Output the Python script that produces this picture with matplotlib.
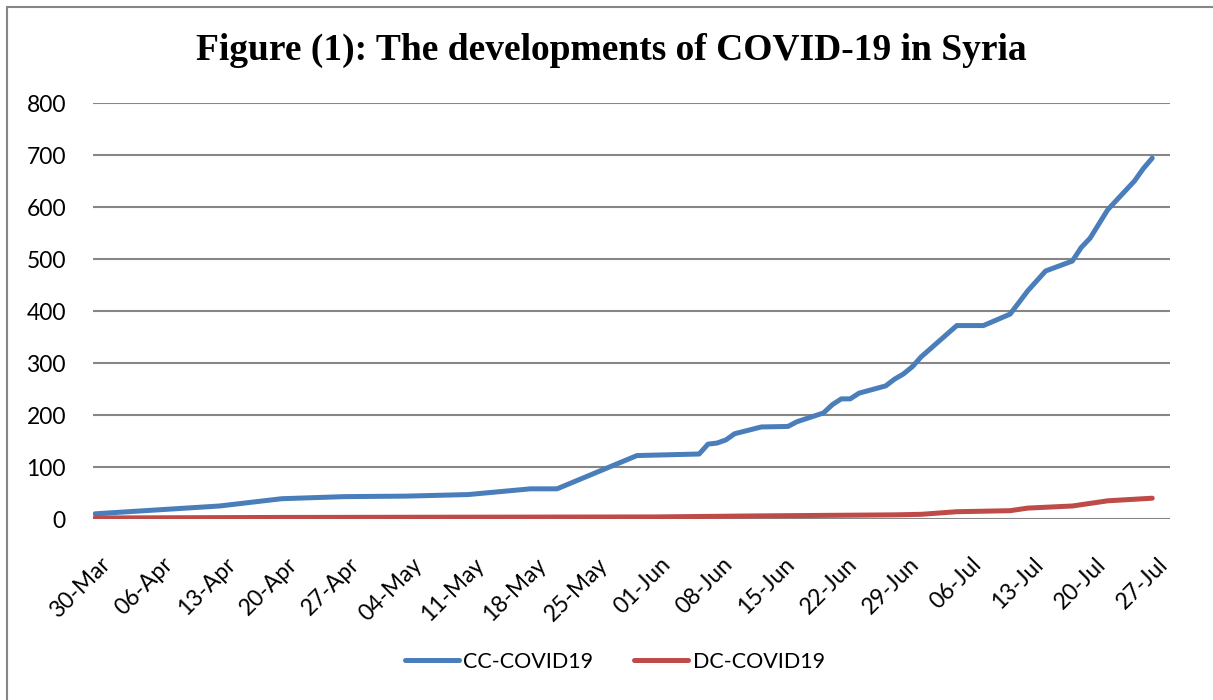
import datetime as dt
import matplotlib
matplotlib.use("Agg")
import matplotlib.pyplot as plt
import matplotlib.dates as mdates
import matplotlib.transforms as mtransforms
from matplotlib.patches import Rectangle

# Confirmed cases (CC) - vertices
cc_dates = ["2020-03-30", "2020-04-13", "2020-04-20", "2020-04-27", "2020-05-04",
            "2020-05-11", "2020-05-18", "2020-05-21", "2020-05-30", "2020-06-06",
            "2020-06-07", "2020-06-08", "2020-06-09", "2020-06-10", "2020-06-13",
            "2020-06-16", "2020-06-17", "2020-06-20", "2020-06-21", "2020-06-22",
            "2020-06-23", "2020-06-24", "2020-06-27", "2020-06-28", "2020-06-29",
            "2020-06-30", "2020-07-01", "2020-07-05", "2020-07-08", "2020-07-11",
            "2020-07-13", "2020-07-15", "2020-07-18", "2020-07-19", "2020-07-20",
            "2020-07-22", "2020-07-25", "2020-07-26", "2020-07-27"]
cc_values = [10, 25, 39, 43, 44,
             47, 58, 58, 122, 125,
             144, 146, 152, 164, 177,
             178, 187, 204, 220, 231,
             231, 242, 256, 269, 279,
             293, 312, 372, 372, 394,
             439, 477, 496, 522, 540,
             595, 650, 674, 694]

# Deaths (DC)
dc_dates = ["2020-03-30", "2020-04-20", "2020-06-01", "2020-06-13", "2020-06-28",
            "2020-07-01", "2020-07-05", "2020-07-11", "2020-07-13", "2020-07-18",
            "2020-07-20", "2020-07-22", "2020-07-27"]
dc_values = [2, 3, 4, 6, 8,
             9, 14, 16, 21, 25,
             30, 35, 40]

tick_start = "2020-03-30"
tick_count = 18

cc_x = [dt.datetime.strptime(d, "%Y-%m-%d") for d in cc_dates]
dc_x = [dt.datetime.strptime(d, "%Y-%m-%d") for d in dc_dates]
t0 = dt.datetime.strptime(tick_start, "%Y-%m-%d")
ticks = [t0 + dt.timedelta(days=7 * i) for i in range(tick_count)]

plt.rcParams['font.family'] = ['Lato', 'DejaVu Sans']

fig = plt.figure(figsize=(12.13, 7.0), dpi=100)
ax = fig.add_axes([93 / 1213, 1 - 519 / 700, (1170 - 93) / 1213, (519 - 103) / 700])

ax.plot(cc_x, cc_values, color='#4A7EBB', lw=3.6, label='CC-COVID19',
        solid_capstyle='round', solid_joinstyle='round', zorder=3)
ax.plot(dc_x, dc_values, color='#BE4B48', lw=3.6, label='DC-COVID19',
        solid_capstyle='round', solid_joinstyle='round', zorder=3)

ax.set_ylim(0, 800)
ax.set_yticks(range(0, 801, 100))
ax.set_xlim(t0 - dt.timedelta(days=0.23), t0 + dt.timedelta(days=121))
ax.set_xticks(ticks)
ax.xaxis.set_major_formatter(mdates.DateFormatter('%d-%b'))

ax.grid(axis='y', color='#868686', lw=1.5)
ax.set_axisbelow(True)
for s in ax.spines.values():
    s.set_visible(False)
ax.tick_params(axis='both', length=0, labelsize=16.5, colors='black')
ax.tick_params(axis='y', pad=19.5)
ax.tick_params(axis='x', pad=25)
shift = mtransforms.ScaledTranslation(5 / 100, 0, fig.dpi_scale_trans)
for lbl in ax.get_xticklabels():
    lbl.set_rotation(45)
    lbl.set_ha('right')
    lbl.set_va('top')
    lbl.set_rotation_mode('anchor')
    lbl.set_transform(lbl.get_transform() + shift)

fig.text(611 / 1213, 1 - 50 / 700, 'Figure (1): The developments of COVID-19 in Syria',
         ha='center', va='center', fontsize=27, fontweight='bold',
         family='Liberation Serif')

fig.legend(loc='center', bbox_to_anchor=(615 / 1213, 1 - 662 / 700), ncol=2,
           frameon=False, fontsize=15.5, handlelength=2.5, columnspacing=1.9,
           handletextpad=0.2)

fig.patches.append(Rectangle((7 / 1213, -0.1), 1.2, 1.1 - 6.5 / 700,
                             transform=fig.transFigure, fill=False,
                             edgecolor='#868686', lw=1.5))

fig.savefig('out.png', dpi=100)
